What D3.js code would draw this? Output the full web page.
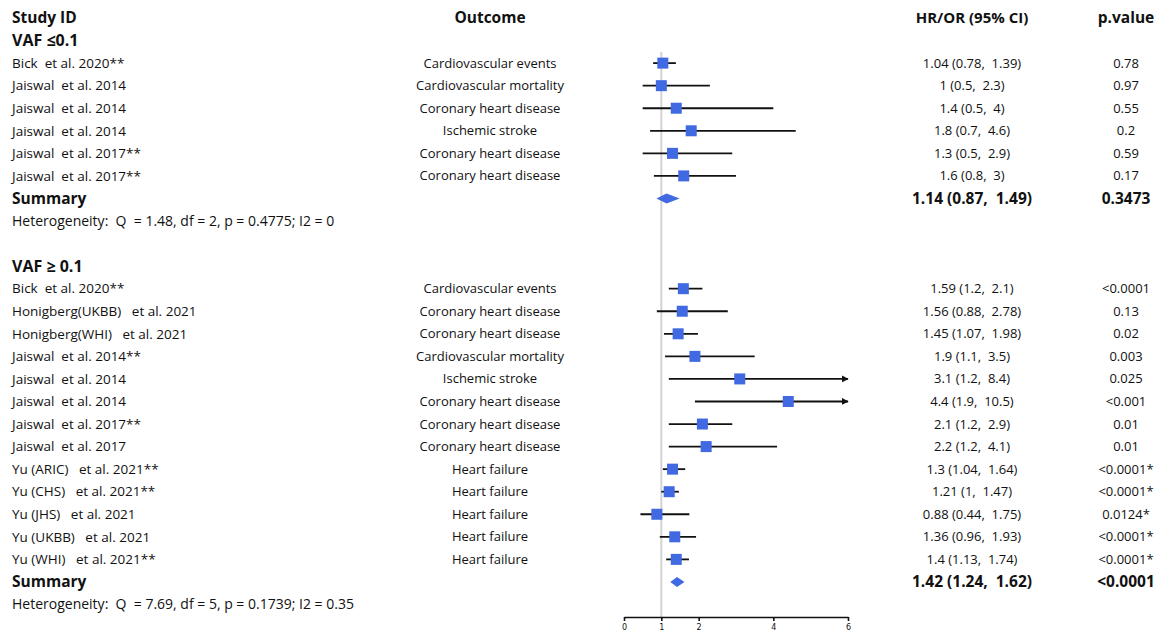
<!DOCTYPE html>
<html lang="en">
<head>
<meta charset="UTF-8">
<title>Forest plot</title>
<script src="https://cdn.jsdelivr.net/npm/d3@7"></script>
<style>
  body { margin: 0; background: #fff; }
  text { font-family: "Open Sans", sans-serif; fill: #111; }
</style>
</head>
<body>
<script>
// group 1: VAF <= 0.1
const g1Study = ["Bick  et al. 2020**", "Jaiswal  et al. 2014", "Jaiswal  et al. 2014", "Jaiswal  et al. 2014", "Jaiswal  et al. 2017**", "Jaiswal  et al. 2017**"];
const g1Outcome = ["Cardiovascular events", "Cardiovascular mortality", "Coronary heart disease", "Ischemic stroke", "Coronary heart disease", "Coronary heart disease"];
const g1Est = [1.04, 1, 1.4, 1.8, 1.3, 1.6];
const g1Lo = [0.78, 0.5, 0.5, 0.7, 0.5, 0.8];
const g1Hi = [1.39, 2.3, 4, 4.6, 2.9, 3];
const g1P = ["0.78", "0.97", "0.55", "0.2", "0.59", "0.17"];
const g1Summary = { est: 1.14, lo: 0.87, hi: 1.49, p: "0.3473" };
const g1Het = "Heterogeneity:  Q  = 1.48, df = 2, p = 0.4775; I2 = 0";

// group 2: VAF >= 0.1
const g2Study = ["Bick  et al. 2020**", "Honigberg(UKBB)   et al. 2021", "Honigberg(WHI)   et al. 2021", "Jaiswal  et al. 2014**", "Jaiswal  et al. 2014", "Jaiswal  et al. 2014", "Jaiswal  et al. 2017**", "Jaiswal  et al. 2017", "Yu (ARIC)   et al. 2021**", "Yu (CHS)   et al. 2021**", "Yu (JHS)   et al. 2021", "Yu (UKBB)   et al. 2021", "Yu (WHI)   et al. 2021**"];
const g2Outcome = ["Cardiovascular events", "Coronary heart disease", "Coronary heart disease", "Cardiovascular mortality", "Ischemic stroke", "Coronary heart disease", "Coronary heart disease", "Coronary heart disease", "Heart failure", "Heart failure", "Heart failure", "Heart failure", "Heart failure"];
const g2Est = [1.59, 1.56, 1.45, 1.9, 3.1, 4.4, 2.1, 2.2, 1.3, 1.21, 0.88, 1.36, 1.4];
const g2Lo = [1.2, 0.88, 1.07, 1.1, 1.2, 1.9, 1.2, 1.2, 1.04, 1, 0.44, 0.96, 1.13];
const g2Hi = [2.1, 2.78, 1.98, 3.5, 8.4, 10.5, 2.9, 4.1, 1.64, 1.47, 1.75, 1.93, 1.74];
const g2P = ["<0.0001", "0.13", "0.02", "0.003", "0.025", "<0.001", "0.01", "0.01", "<0.0001*", "<0.0001*", "0.0124*", "<0.0001*", "<0.0001*"];
const g2Summary = { est: 1.42, lo: 1.24, hi: 1.62, p: "<0.0001" };
const g2Het = "Heterogeneity:  Q  = 7.69, df = 5, p = 0.1739; I2 = 0.35";

const tickVals = [0, 1, 2, 4, 6];

const width = 1170, height = 635;
const svg = d3.select("body").append("svg")
  .attr("width", width).attr("height", height);

// keep the doubled spaces visible
const keepSpaces = s => s.replace(/ {2,}/g, m => m.replace(/ /g, "\u00a0"));

// build the row list
let rows = [];
rows.push({ type: "header" });
rows.push({ type: "group", label: "VAF \u22640.1" });
g1Study.forEach((s, i) => rows.push({ type: "study", study: s, outcome: g1Outcome[i], est: g1Est[i], lo: g1Lo[i], hi: g1Hi[i], p: g1P[i] }));
rows.push({ type: "summary", ...g1Summary });
rows.push({ type: "het", label: g1Het });
rows.push({ type: "blank" });
rows.push({ type: "group", label: "VAF \u2265 0.1" });
g2Study.forEach((s, i) => rows.push({ type: "study", study: s, outcome: g2Outcome[i], est: g2Est[i], lo: g2Lo[i], hi: g2Hi[i], p: g2P[i] }));
rows.push({ type: "summary", ...g2Summary });
rows.push({ type: "het", label: g2Het });

const y = d3.scaleLinear().domain([0, rows.length - 1]).range([18, 604.5]);
const x = d3.scaleLinear().domain([0, 6]).range([624, 848]);

const colStudy = 12, colOutcome = 490, colHR = 972, colP = 1126;
const boxColor = "#4169e1";
const axisY = 617;

// reference line at 1
svg.append("line")
  .attr("x1", x(1)).attr("x2", x(1))
  .attr("y1", 52).attr("y2", axisY)
  .attr("stroke", "#d3d3d3").attr("stroke-width", 2);

// arrow marker
svg.append("defs").append("marker")
  .attr("id", "arrow")
  .attr("viewBox", "0 0 10 10")
  .attr("refX", 9).attr("refY", 5)
  .attr("markerWidth", 4).attr("markerHeight", 4)
  .attr("orient", "auto")
  .append("path").attr("d", "M0,0L10,5L0,10z").attr("fill", "#111");

function fmt(d) {
  return keepSpaces(d.est + " (" + d.lo + ",  " + d.hi + ")");
}

// header
const hdr = svg.append("g").style("font-weight", "bold").style("font-size", "15.5px");
hdr.append("text").attr("x", colStudy).attr("y", y(0)).attr("dy", "0.35em").text("Study ID");
hdr.append("text").attr("x", colOutcome).attr("y", y(0)).attr("dy", "0.35em").attr("text-anchor", "middle").text("Outcome");
hdr.append("text").attr("x", colHR).attr("y", y(0)).attr("dy", "0.35em").attr("text-anchor", "middle").style("font-size", "15px").text("HR/OR (95% CI)");
hdr.append("text").attr("x", colP).attr("y", y(0)).attr("dy", "0.35em").attr("text-anchor", "middle").text("p.value");

rows.forEach((r, i) => {
  const yy = y(i);
  if (r.type === "group") {
    svg.append("text").attr("x", colStudy).attr("y", yy).attr("dy", "0.35em")
      .style("font-weight", "bold").style("font-size", "16px").text(r.label);
  } else if (r.type === "het") {
    svg.append("text").attr("x", colStudy).attr("y", yy).attr("dy", "0.35em")
      .style("font-size", "14px").text(keepSpaces(r.label));
  } else if (r.type === "study") {
    svg.append("text").attr("x", colStudy).attr("y", yy).attr("dy", "0.35em")
      .style("font-size", "13.5px").text(keepSpaces(r.study));
    svg.append("text").attr("x", colOutcome).attr("y", yy).attr("dy", "0.35em")
      .attr("text-anchor", "middle").style("font-size", "13px").text(r.outcome);
    svg.append("text").attr("x", colHR).attr("y", yy).attr("dy", "0.35em")
      .attr("text-anchor", "middle").style("font-size", "13px").text(fmt(r));
    svg.append("text").attr("x", colP).attr("y", yy).attr("dy", "0.35em")
      .attr("text-anchor", "middle").style("font-size", "13px").text(r.p);

    const over = r.hi > 6;
    svg.append("line")
      .attr("x1", x(r.lo)).attr("x2", over ? x(6) : x(r.hi))
      .attr("y1", yy).attr("y2", yy)
      .attr("stroke", "#111").attr("stroke-width", 1.8)
      .attr("marker-end", over ? "url(#arrow)" : null);
    svg.append("rect")
      .attr("x", x(r.est) - 5.5).attr("y", yy - 5.5)
      .attr("width", 11).attr("height", 11)
      .attr("fill", boxColor);
  } else if (r.type === "summary") {
    svg.append("text").attr("x", colStudy).attr("y", yy).attr("dy", "0.35em")
      .style("font-weight", "bold").style("font-size", "15.5px").text("Summary");
    svg.append("text").attr("x", colHR).attr("y", yy).attr("dy", "0.35em")
      .attr("text-anchor", "middle").style("font-weight", "bold").style("font-size", "15.5px")
      .text(fmt(r));
    svg.append("text").attr("x", colP).attr("y", yy).attr("dy", "0.35em")
      .attr("text-anchor", "middle").style("font-weight", "bold").style("font-size", "15.5px").text(r.p);
    svg.append("path")
      .attr("d", `M${x(r.lo)},${yy}L${x(r.est)},${yy - 5}L${x(r.hi)},${yy}L${x(r.est)},${yy + 5}Z`)
      .attr("fill", boxColor);
  }
});

// axis
const axis = svg.append("g")
  .attr("transform", `translate(0,${axisY})`)
  .call(d3.axisBottom(x).tickValues(tickVals).tickFormat(d3.format("d"))
    .tickSize(4).tickSizeOuter(0).tickPadding(3));
axis.select(".domain").attr("stroke", "#111").attr("stroke-width", 1.6);
axis.selectAll(".tick line").attr("stroke", "#111").attr("stroke-width", 1.6);
axis.selectAll(".tick text").style("font-size", "8px").style("font-family", "DejaVu Sans, sans-serif").attr("fill", "#333");
</script>
</body>
</html>
